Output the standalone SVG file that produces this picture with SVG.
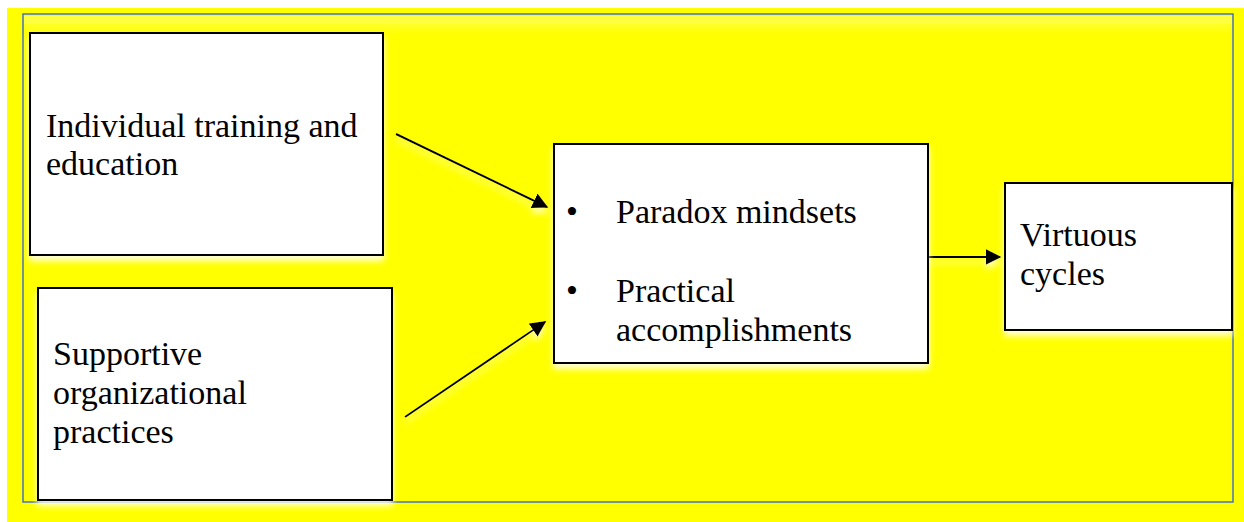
<svg xmlns="http://www.w3.org/2000/svg" width="1244" height="522" viewBox="0 0 1244 522">
  <style>
    .box { fill: #ffffff; stroke: #000000; stroke-width: 2; filter: url(#glow); }
    .lbl { font-family: "Liberation Serif", "Times New Roman", serif; font-size: 34px; fill: #000000; }
    .conn { stroke: #000000; stroke-width: 2; fill: none; marker-end: url(#arrow); }
  </style>
  <defs>
    <marker id="arrow" viewBox="0 0 10 10" refX="9" refY="5" markerWidth="8" markerHeight="8" markerUnits="strokeWidth" orient="auto">
      <path d="M0,0 L10,5 L0,10 Z" fill="#000000"/>
    </marker>
    <filter id="glow" x="-10%" y="-10%" width="120%" height="130%">
      <feDropShadow dx="0" dy="5" stdDeviation="3" flood-color="#ffffff" flood-opacity="0.85"/>
    </filter>
    <filter id="glow2" filterUnits="userSpaceOnUse" x="0" y="0" width="1244" height="522">
      <feDropShadow dx="0" dy="5" stdDeviation="3" flood-color="#ffffff" flood-opacity="0.7"/>
    </filter>
  </defs>

  <rect x="0" y="0" width="1244" height="522" fill="#ffffff"/>
  <rect x="7" y="8" width="1237" height="514" fill="#ffff00"/>
  <rect x="24" y="16" width="1208" height="8" fill="#ffffff" opacity="0.25" filter="url(#glow2)"/>
  <rect id="frame" x="23" y="14" width="1210" height="488" fill="none" stroke="#4472c4" stroke-width="1.5"/>

  <g id="connectors" filter="url(#glow2)">
    <line class="conn" x1="396" y1="134" x2="547" y2="207"/>
    <line class="conn" x1="405" y1="417" x2="545" y2="322"/>
    <line class="conn" x1="926" y1="257" x2="1000" y2="257"/>
  </g>

  <g id="node-individual">
    <rect class="box" x="30" y="33" width="353" height="222"/>
    <text class="lbl" x="46" y="137">Individual training and</text>
    <text class="lbl" x="46" y="175">education</text>
  </g>

  <g id="node-supportive">
    <rect class="box" x="38" y="288" width="354" height="212"/>
    <text class="lbl" x="53" y="365">Supportive</text>
    <text class="lbl" x="53" y="404">organizational</text>
    <text class="lbl" x="53" y="443">practices</text>
  </g>

  <g id="node-center">
    <rect class="box" x="554" y="144" width="374" height="219"/>
    <text class="lbl" x="566" y="223">•</text>
    <text class="lbl" x="616" y="223">Paradox mindsets</text>
    <text class="lbl" x="566" y="302">•</text>
    <text class="lbl" x="616" y="302">Practical</text>
    <text class="lbl" x="616" y="341">accomplishments</text>
  </g>

  <g id="node-virtuous">
    <rect class="box" x="1005" y="183" width="227" height="147"/>
    <text class="lbl" x="1020" y="246">Virtuous</text>
    <text class="lbl" x="1020" y="285">cycles</text>
  </g>
</svg>
